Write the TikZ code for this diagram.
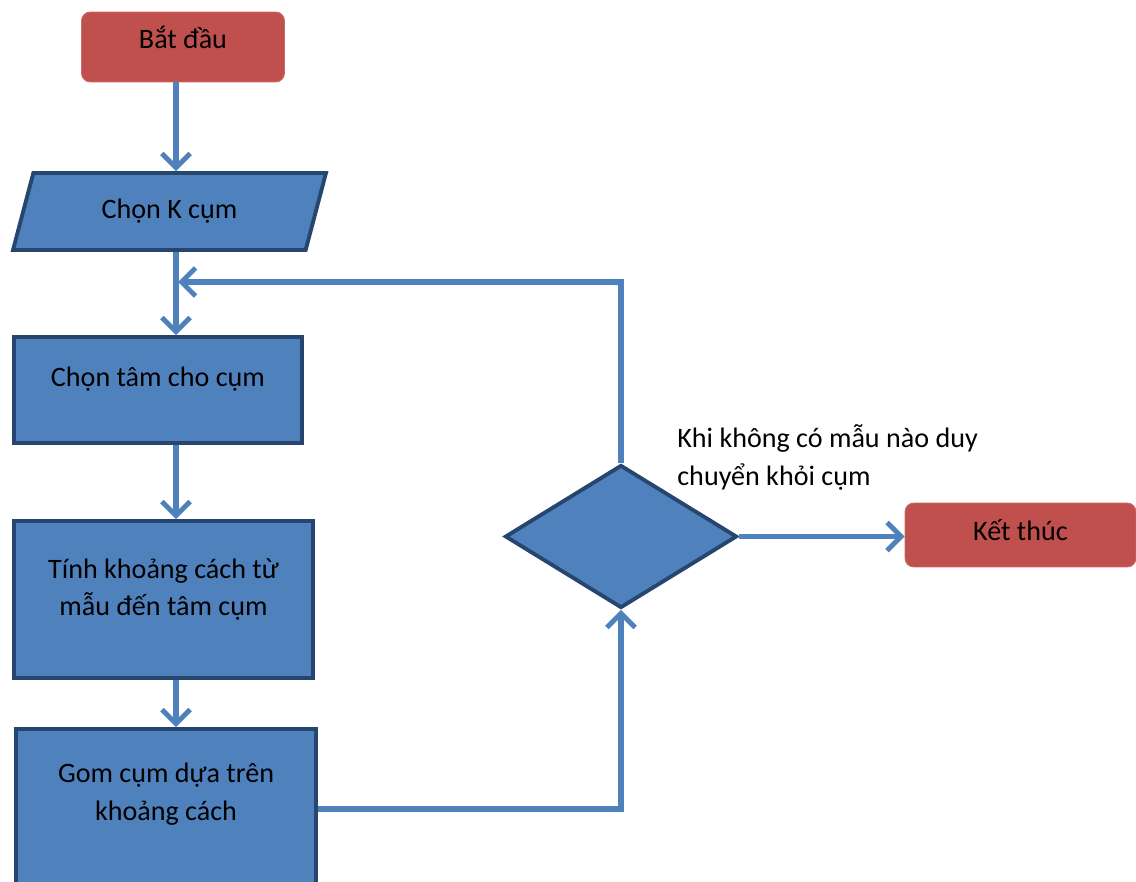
\documentclass[tikz,border=0pt]{standalone}
\usepackage{fontspec}
\setmainfont{Carlito}
\usetikzlibrary{positioning,arrows.meta,shapes.geometric,calc}
\definecolor{boxblue}{HTML}{4F81BD}
\definecolor{boxedge}{HTML}{27466F}
\definecolor{termred}{HTML}{C0504D}

\begin{document}
\begin{tikzpicture}[
  x=0.02cm, y=-0.02cm,
  every node/.style={font=\fontsize{16}{21.5}\selectfont, text=black},
  term/.style={rectangle, fill=termred, draw=termred!85!white, rounded corners=5pt,
               line width=0.5pt, text depth=11pt},
  proc/.style={rectangle, draw=boxedge, fill=boxblue, line width=2.2pt, align=center},
  io/.style={trapezium, trapezium left angle=73, trapezium right angle=107,
             trapezium stretches=true, draw=boxedge, fill=boxblue, line width=2.2pt},
  decide/.style={diamond, draw=boxedge, fill=boxblue, line width=2.2pt, inner sep=0pt},
  arr/.style={-{Straight Barb[length=8pt,width=16pt,line width=2.8pt]},
              line width=3.2pt, boxblue},
  note/.style={align=left, inner sep=0pt},
]
\useasboundingbox (0,0) rectangle (1136,882);

% Main column, top to bottom
\node[term, minimum width=4.06cm, minimum height=1.4cm] (start) at (183,47) {Bắt đầu};
\node[io, minimum width=6.3cm, minimum height=1.54cm] (chonk) at (169.5,211.5) {Chọn K cụm};
\node[proc, minimum width=5.76cm, minimum height=2.12cm, text depth=15pt] (chontam)
  at (158,390) {Chọn tâm cho cụm};
\node[proc, minimum width=5.98cm, minimum height=3.14cm, text depth=14pt] (tinh)
  at (163.5,599.5) {Tính khoảng cách từ\\mẫu đến tâm cụm};
\node[proc, minimum width=6cm, minimum height=3.2cm, text depth=20pt] (gom)
  at (166,809) {Gom cụm dựa trên\\khoảng cách};

% Decision and end
\node[decide, minimum width=4.64cm, minimum height=2.86cm] (dec) at (621,536.5) {};
\node[term, minimum width=4.62cm, minimum height=1.28cm, text depth=6pt] (end)
  at (1020.5,535) {Kết thúc};
\node[note, anchor=north west] (cond) at (677,424)
  {Khi không có mẫu nào duy\\chuyển khỏi cụm};

% Spine of the column and loop entry
\coordinate (spine) at (176,0);
\coordinate (merge) at (178,282);

% Arrows
\draw[arr] (start.south -| spine) -- (chonk.north -| spine);
\draw[arr] (chonk.south -| spine) -- (chontam.north -| spine);
\draw[arr] (chontam.south -| spine) -- (tinh.north -| spine);
\draw[arr] (tinh.south -| spine) -- (gom.north -| spine);
\draw[arr] (gom.east) -| (dec.south);
\draw[arr] (dec.north) |- (merge);
\draw[arr] (dec.east) -- (dec.east -| end.west);

\end{tikzpicture}
\end{document}
